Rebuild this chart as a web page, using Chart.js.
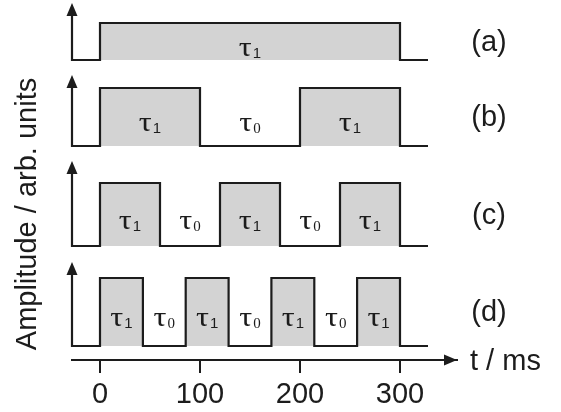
<!DOCTYPE html>
<html><head><meta charset="utf-8">
<script src="https://cdn.jsdelivr.net/npm/chart.js@4.4.1/dist/chart.umd.min.js"></script>
<style>html,body{margin:0;padding:0;background:#fff;overflow:hidden}</style>
</head><body>
<canvas id="c" width="561" height="412"></canvas>
<script>
// ---- data ----
const xTicks = [0, 100, 200, 300];
const rowNames = ['(a)', '(b)', '(c)', '(d)'];
const rowLow = [300, 214, 114, 14];
const rowHigh = [337, 272, 177, 82];
const rowAxisTop = [357, 285, 199, 98];
const edgesA = [0, 300];
const edgesB = [0, 100, 200, 300];
const edgesC = [0, 60, 120, 180, 240, 300];
const edgesD = [0, 42.9, 85.7, 128.6, 171.4, 214.3, 257.1, 300];
const subsA = ['1'];
const subsB = ['1', '0', '1'];
const subsC = ['1', '0', '1', '0', '1'];
const subsD = ['1', '0', '1', '0', '1', '0', '1'];
const tStart = -28, tEnd = 328, tArrow = 357;
const xTitle = 't / ms';
const yTitle = 'Amplitude / arb. units';
const rowLabelT = 389;

const edges = [edgesA, edgesB, edgesC, edgesD];
const subs = [subsA, subsB, subsC, subsD];
const INK = '#1c1c1c';

function pulsePoints(e, lo, hi) {
  const pts = [{x: tStart, y: lo}];
  e.forEach((t, i) => pts.push({x: t, y: i % 2 === 0 ? hi : lo}));
  pts.push({x: tEnd, y: lo});
  return pts;
}

const datasets = edges.map((e, i) => ({
  data: pulsePoints(e, rowLow[i], rowHigh[i]),
  stepped: 'before',
  borderColor: INK,
  borderWidth: 2.2,
  backgroundColor: '#d3d3d3',
  fill: {value: rowLow[i]},
  pointRadius: 0,
  clip: false
}));

const deco = {
  id: 'deco',
  afterDatasetsDraw(chart) {
    const ctx = chart.ctx, xs = chart.scales.x, ys = chart.scales.y;
    ctx.save();
    ctx.fillStyle = INK; ctx.strokeStyle = INK; ctx.lineWidth = 2.2;
    const x0 = xs.getPixelForValue(tStart);
    // vertical amplitude axes
    rowLow.forEach((lo, i) => {
      const yb = ys.getPixelForValue(lo), yt = ys.getPixelForValue(rowAxisTop[i]);
      ctx.beginPath(); ctx.moveTo(x0, yb + 1); ctx.lineTo(x0, yt + 10); ctx.stroke();
      ctx.beginPath(); ctx.moveTo(x0, yt); ctx.lineTo(x0 - 5.5, yt + 13); ctx.lineTo(x0 + 5.5, yt + 13); ctx.closePath(); ctx.fill();
    });
    // time axis arrowhead
    const ya = ys.getPixelForValue(0), xa = xs.getPixelForValue(tArrow);
    ctx.beginPath(); ctx.moveTo(xa, ya); ctx.lineTo(xa - 13, ya - 5.5); ctx.lineTo(xa - 13, ya + 5.5); ctx.closePath(); ctx.fill();
    // tau labels
    const sx = 1.15;
    edges.forEach((e, i) => {
      const mid = (ys.getPixelForValue(rowLow[i]) + ys.getPixelForValue(rowHigh[i])) / 2;
      const base = mid + 14;
      for (let k = 0; k < e.length - 1; k++) {
        const cx = xs.getPixelForValue((e[k] + e[k + 1]) / 2);
        const s = subs[i][k];
        const tauFont = '28px "Liberation Serif"';
        const subFont = s === '1' ? '15px "Liberation Sans"' : '15px "Liberation Serif"';
        ctx.font = tauFont; const wt = ctx.measureText('τ').width * sx;
        ctx.font = subFont; const ws = ctx.measureText(s).width;
        const gap = 1;
        const left = cx - (wt + gap + ws) / 2;
        ctx.textAlign = 'left'; ctx.textBaseline = 'alphabetic';
        ctx.save(); ctx.translate(left, base); ctx.scale(sx, 1);
        ctx.font = tauFont; ctx.fillText('τ', 0, 0);
        ctx.restore();
        ctx.font = subFont; ctx.fillText(s, left + wt + gap, base + 2);
      }
    });
    // row labels
    ctx.font = '29px "Liberation Sans"'; ctx.textAlign = 'center'; ctx.textBaseline = 'middle';
    rowNames.forEach((n, i) => {
      const mid = (ys.getPixelForValue(rowLow[i]) + ys.getPixelForValue(rowHigh[i])) / 2;
      ctx.fillText(n, xs.getPixelForValue(rowLabelT), mid + 1);
    });
    // x title
    ctx.textAlign = 'left'; ctx.textBaseline = 'alphabetic';
    ctx.fillText(xTitle, xa + 13, ya + 10);
    // y title
    ctx.translate(36, 214); ctx.rotate(-Math.PI / 2);
    ctx.textAlign = 'center'; ctx.textBaseline = 'alphabetic';
    ctx.fillText(yTitle, 0, 0);
    ctx.restore();
  }
};

new Chart(document.getElementById('c'), {
  type: 'line',
  data: {datasets},
  options: {
    responsive: false, animation: false, devicePixelRatio: 1, events: [],
    layout: {padding: {left: 72, right: 104, top: 0, bottom: 0}},
    plugins: {legend: {display: false}, tooltip: {enabled: false}},
    scales: {
      x: {
        type: 'linear', min: tStart, max: tArrow,
        afterBuildTicks: s => { s.ticks = xTicks.map(v => ({value: v})); },
        afterFit: s => { s.height = 52; },
        grid: {display: true, drawOnChartArea: false, drawTicks: true, tickLength: 13, color: INK, lineWidth: 2},
        border: {display: true, color: INK, width: 2},
        ticks: {font: {family: 'Liberation Sans', size: 29}, color: INK, padding: 5, maxRotation: 0, autoSkip: false}
      },
      y: {type: 'linear', min: 0, max: 360, display: false}
    }
  },
  plugins: [deco]
});
</script>
</body></html>
